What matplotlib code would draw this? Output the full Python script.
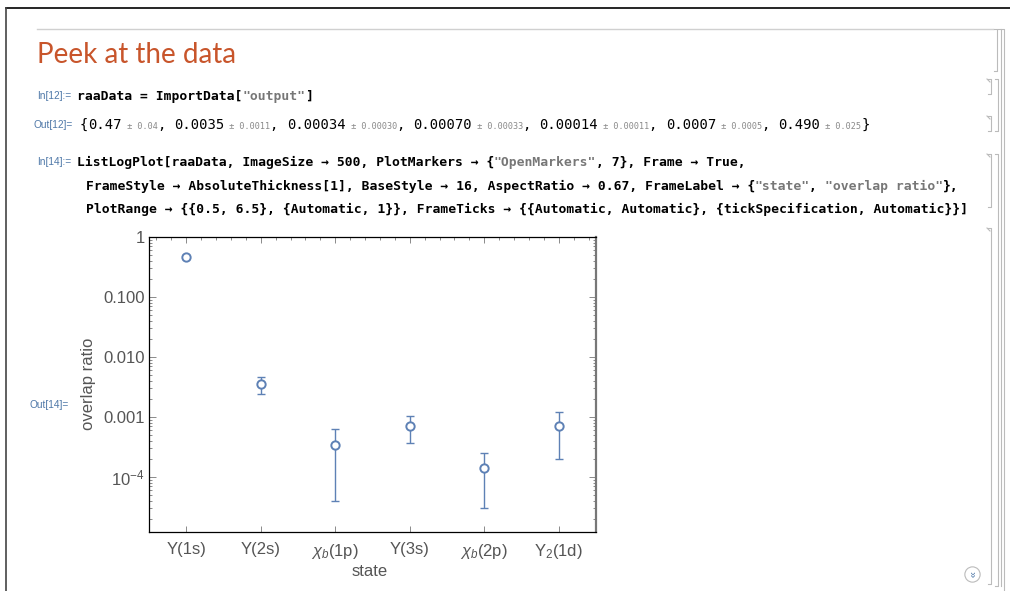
"""
Mathematica notebook cell: ListLogPlot of overlap ratios per state.
"""
import matplotlib
matplotlib.use("Agg")
import matplotlib.pyplot as plt
from matplotlib.lines import Line2D
from matplotlib.ticker import FixedLocator, NullFormatter

W, H = 1010, 591

states = ["Υ(1s)", "Υ(2s)", r"$\chi_b$(1p)", "Υ(3s)", r"$\chi_b$(2p)", r"Υ$_2$(1d)"]
ratios = [0.47, 0.0035, 0.00034, 0.00070, 0.00014, 0.0007, 0.490]
errors = [0.04, 0.0011, 0.00030, 0.00033, 0.00011, 0.0005, 0.025]
ratio_text = ["0.47", "0.0035", "0.00034", "0.00070", "0.00014", "0.0007", "0.490"]
error_text = ["0.04", "0.0011", "0.00030", "0.00033", "0.00011", "0.0005", "0.025"]
y_ticks = [1, 0.1, 0.01, 0.001, 1e-4]
y_tick_labels = ["1", "0.100", "0.010", "0.001", r"$10^{-4}$"]

plt.rcParams["mathtext.fontset"] = "custom"
plt.rcParams["mathtext.rm"] = "Liberation Sans"
plt.rcParams["mathtext.it"] = "Liberation Sans:italic"
plt.rcParams["font.family"] = ["Liberation Sans", "DejaVu Sans"]

BLUE = "#5E81B5"
LABEL = "#4F78A8"
GREY_TXT = "#555555"
BRACKET = "#BBBBBB"


def fx(x):
    return x / W


def fy(y):
    return 1 - y / H


def px_line(fig, xs, ys, **kw):
    fig.add_artist(Line2D([fx(v) for v in xs], [fy(v) for v in ys],
                          transform=fig.transFigure, **kw))


def code_runs(fig, x, y, parts):
    """Draw monospaced runs one after another; parts = (text, size, color, weight)."""
    for text, size, color, weight in parts:
        fig.text(fx(x), fy(y), text, family="DejaVu Sans Mono", fontsize=size,
                 color=color, weight=weight, va="baseline", ha="left")
        x += len(text) * 0.602 * size * 100 / 72


def bracket(fig, x, y0, y1, fold=False):
    px_line(fig, [x - 3, x, x, x - 3], [y0, y0, y1, y1], color=BRACKET, lw=0.8)
    if fold:
        px_line(fig, [x - 4, x - 1], [y0, y0 + 3], color=BRACKET, lw=0.8)


fig = plt.figure(figsize=(W / 100, H / 100), dpi=100)
fig.patch.set_facecolor("white")

# notebook window edges
px_line(fig, [6, W], [8, 8], color="black", lw=1.2)
px_line(fig, [6, 6], [8, H], color="#444444", lw=1.2)

# section header
px_line(fig, [37, 993], [29, 29], color="#D0D0D0", lw=1.0)
fig.text(fx(37), fy(63), "Peek at the data", family="Lato", fontsize=20,
         color="#C8552B", va="baseline", ha="left")

# In[12] / Out[12]
LS = 7.3
fig.text(fx(37), fy(99), "In[12]:=", fontsize=LS, color=LABEL, va="baseline")
B = 9.4
code_runs(fig, 77, 100, [
    ("raaData = ImportData[", B, "black", "bold"),
    ('"output"', B, "#777777", "bold"),
    ("]", B, "black", "bold"),
])

fig.text(fx(33), fy(128), "Out[12]=", fontsize=LS, color=LABEL, va="baseline")
parts = [("{", 10, "black", "normal")]
for i, (r, e) in enumerate(zip(ratio_text, error_text)):
    parts.append((r, 10, "black", "normal"))
    parts.append((" ± " + e, 6.1, "#8a8a8a", "normal"))
    parts.append((", " if i < len(ratio_text) - 1 else "}", 10, "black", "normal"))
code_runs(fig, 80, 129, parts)

# In[14]
fig.text(fx(37), fy(165), "In[14]:=", fontsize=LS, color=LABEL, va="baseline")
code_runs(fig, 77, 166, [
    ("ListLogPlot[raaData, ImageSize → 500, PlotMarkers → {", B, "black", "bold"),
    ('"OpenMarkers"', B, "#777777", "bold"),
    (", 7}, Frame → True,", B, "black", "bold"),
])
code_runs(fig, 86, 190, [
    ("FrameStyle → AbsoluteThickness[1], BaseStyle → 16, AspectRatio → 0.67, FrameLabel → {", B, "black", "bold"),
    ('"state"', B, "#777777", "bold"),
    (", ", B, "black", "bold"),
    ('"overlap ratio"', B, "#777777", "bold"),
    ("},", B, "black", "bold"),
])
code_runs(fig, 86, 213, [
    ("PlotRange → {{0.5, 6.5}, {Automatic, 1}}, FrameTicks → {{Automatic, Automatic}, {tickSpecification, Automatic}}]",
     B, "black", "bold"),
])

fig.text(fx(30), fy(408), "Out[14]=", fontsize=LS, color=LABEL, va="baseline")

# the plot
ax = fig.add_axes([fx(149), fy(532), (596 - 149) / W, (532 - 237) / H])
x = list(range(1, len(ratios) + 1))
ax.errorbar(x, ratios, yerr=errors, fmt="none", ecolor=BLUE, elinewidth=1.0,
            capsize=3, capthick=1.0)
ax.plot(x, ratios, "o", mfc="white", mec=BLUE, mew=1.4, ms=6)

ax.set_yscale("log")
ax.set_ylim(10 ** -4.917, 1)
ax.set_xlim(0.5, 6.5)

ax.yaxis.set_major_locator(FixedLocator(y_ticks))
ax.set_yticklabels(y_tick_labels)
minors = [m * 10.0 ** k for k in range(-5, 0) for m in range(2, 10)]
ax.yaxis.set_minor_locator(FixedLocator(minors))
ax.yaxis.set_minor_formatter(NullFormatter())

ax.set_xticks(range(1, 7))
ax.set_xticklabels(states)
ax.xaxis.set_minor_locator(FixedLocator([0.6 + 0.2 * i for i in range(30)]))

ax.tick_params(which="both", direction="in", color="#8a8a8a", width=0.7,
               labelcolor=GREY_TXT, labelsize=12)
ax.tick_params(axis="y", which="both", left=True, right=True, pad=3)
ax.tick_params(axis="y", which="major", length=5)
ax.tick_params(axis="y", which="minor", length=2.5)
ax.tick_params(axis="x", which="major", top=True, bottom=True, length=4, pad=7)
ax.tick_params(axis="x", which="minor", top=True, bottom=False, length=2.2)

for side in ["left", "top", "bottom"]:
    ax.spines[side].set_color("black")
    ax.spines[side].set_linewidth(0.9)
ax.spines["right"].set_color("#777777")
ax.spines["right"].set_linewidth(1.6)

fig.text(fx(88), fy(384), "overlap ratio", fontsize=12, color=GREY_TXT,
         rotation=90, ha="center", va="center")
fig.text(fx(370), fy(572), "state", fontsize=12, color=GREY_TXT,
         ha="center", va="center")

# cell brackets on the right
bracket(fig, 997, 29, 71)
px_line(fig, [998, 1001, 1001], [29, 29, 586], color=BRACKET, lw=0.8)
px_line(fig, [1001, 1004, 1004], [29, 29, 591], color=BRACKET, lw=0.8)
bracket(fig, 991, 79, 94, fold=True)
bracket(fig, 991, 116, 131, fold=True)
bracket(fig, 997.5, 79, 131)
bracket(fig, 991, 154, 207, fold=True)
bracket(fig, 991, 228, 584, fold=True)
bracket(fig, 997.5, 154, 586)

# scroll chevron
fig.add_artist(Line2D([fx(972)], [fy(574)], transform=fig.transFigure,
                      marker="o", ms=11, mfc="white", mec="#BBBBBB", mew=0.8))
fig.text(fx(972), fy(574), "»", fontsize=8, color=LABEL, rotation=-90,
         ha="center", va="center")

fig.savefig("out.png", dpi=100)
